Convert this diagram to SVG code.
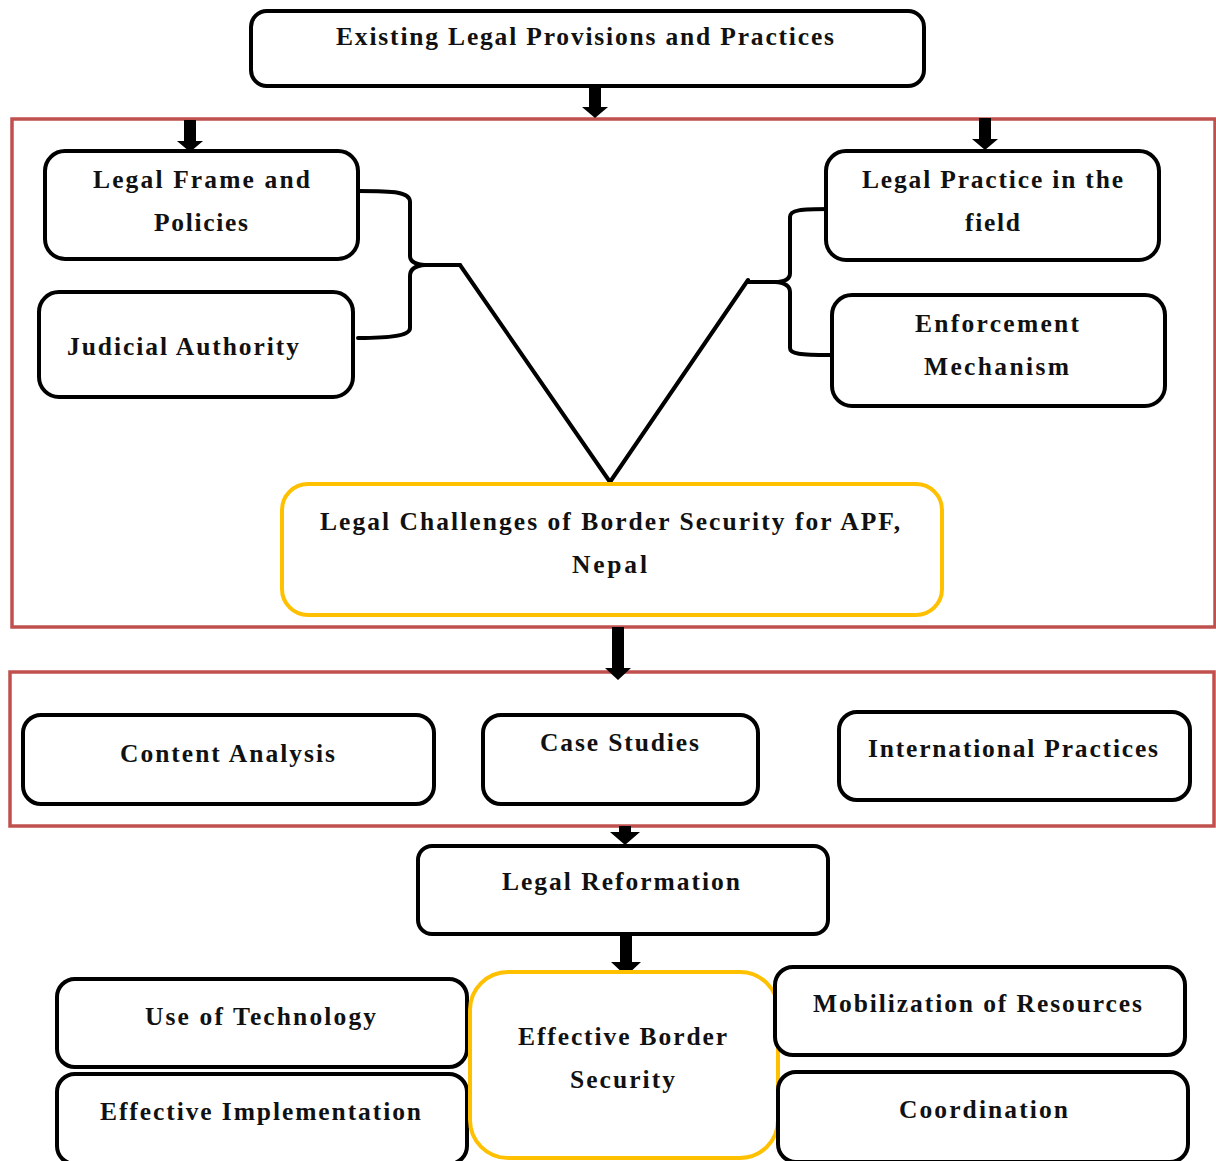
<svg xmlns="http://www.w3.org/2000/svg" width="1216" height="1161" viewBox="0 0 1216 1161">
<style>
.box{fill:#fff;stroke:#000;stroke-width:4}
.ybox{fill:#fff;stroke:#ffc000;stroke-width:4}
.frame{fill:none;stroke:#c0504d;stroke-width:3.5}
.t{font-family:"Liberation Serif","Times New Roman",serif;font-weight:bold;font-size:25.5px;fill:#111}
.ln{fill:none;stroke:#000;stroke-width:4;stroke-linejoin:round;stroke-linecap:round}
.ar{fill:#000}
</style>
<rect width="1216" height="1161" fill="#fff"/>
<g id="frames">
<rect class="frame" x="12" y="119" width="1203" height="508"/>
<rect class="frame" x="10" y="672" width="1204" height="154"/>
</g>
<g id="connectors">
<path class="ln" d="M358,191 C395,191 410,192 410,202 L410,256 Q410,264 425,265 L460,265"/>
<path class="ln" d="M358,338 C395,338 410,335 410,328 L410,276 Q410,266 425,265"/>
<path class="ln" d="M460,265 L610,482 L748,280"/>
<path class="ln" d="M830,209 C800,209 790,210 790,217 L790,273 Q790,282 775,282 L748,282"/>
<path class="ln" d="M830,355 C800,355 790,354 790,348 L790,292 Q790,283 775,282"/>
<path class="ar" d="M589,86 L601,86 L601,107 L608,107 L595,118 L582,107 L589,107 Z"/>
<path class="ar" d="M184,120 L196,120 L196,141 L203,141 L190,152 L177,141 L184,141 Z"/>
<path class="ar" d="M979,118 L991,118 L991,139 L998,139 L985,150 L972,139 L979,139 Z"/>
<path class="ar" d="M612,627 L624,627 L624,668 L631,668 L618,680 L605,668 L612,668 Z"/>
<path class="ar" d="M619,826 L631,826 L631,832 L640,832 L625,845 L610,832 L619,832 Z"/>
<path class="ar" d="M620,934 L632,934 L632,962 L641,962 L626,976 L611,962 L620,962 Z"/>
</g>
<g id="n-existing">
<rect class="box" x="251" y="11" width="673" height="75" rx="16"/>
<text class="t" x="336" y="45" textLength="498" lengthAdjust="spacing">Existing Legal Provisions and Practices</text>
</g>
<g id="n-legalframe">
<rect class="box" x="45" y="151" width="313" height="108" rx="20"/>
<text class="t" x="93" y="188" textLength="217" lengthAdjust="spacing">Legal Frame and</text>
<text class="t" x="154" y="231" textLength="94" lengthAdjust="spacing">Policies</text>
</g>
<g id="n-judicial">
<rect class="box" x="39" y="292" width="314" height="105" rx="20"/>
<text class="t" x="67" y="355" textLength="232" lengthAdjust="spacing">Judicial Authority</text>
</g>
<g id="n-legalpractice">
<rect class="box" x="826" y="151" width="333" height="109" rx="20"/>
<text class="t" x="862" y="188" textLength="261" lengthAdjust="spacing">Legal Practice in the</text>
<text class="t" x="965" y="231" textLength="55" lengthAdjust="spacing">field</text>
</g>
<g id="n-enforcement">
<rect class="box" x="832" y="295" width="333" height="111" rx="20"/>
<text class="t" x="915" y="332" textLength="164" lengthAdjust="spacing">Enforcement</text>
<text class="t" x="924" y="375" textLength="145" lengthAdjust="spacing">Mechanism</text>
</g>
<g id="n-challenges">
<rect class="ybox" x="282" y="484" width="660" height="131" rx="26"/>
<text class="t" x="320" y="530" textLength="580" lengthAdjust="spacing">Legal Challenges of Border Security for APF,</text>
<text class="t" x="572" y="573" textLength="75" lengthAdjust="spacing">Nepal</text>
</g>
<g id="n-content">
<rect class="box" x="23" y="715" width="411" height="89" rx="18"/>
<text class="t" x="120" y="762" textLength="215" lengthAdjust="spacing">Content Analysis</text>
</g>
<g id="n-case">
<rect class="box" x="483" y="715" width="275" height="89" rx="18"/>
<text class="t" x="540" y="751" textLength="159" lengthAdjust="spacing">Case Studies</text>
</g>
<g id="n-international">
<rect class="box" x="839" y="712" width="351" height="88" rx="18"/>
<text class="t" x="868" y="757" textLength="290" lengthAdjust="spacing">International Practices</text>
</g>
<g id="n-reformation">
<rect class="box" x="418" y="846" width="410" height="88" rx="14"/>
<text class="t" x="502" y="890" textLength="238" lengthAdjust="spacing">Legal Reformation</text>
</g>
<g id="n-technology">
<rect class="box" x="57" y="979" width="410" height="88" rx="18"/>
<text class="t" x="145" y="1025" textLength="231" lengthAdjust="spacing">Use of Technology</text>
</g>
<g id="n-implementation">
<rect class="box" x="57" y="1074" width="410" height="90" rx="18"/>
<text class="t" x="100" y="1120" textLength="321" lengthAdjust="spacing">Effective Implementation</text>
</g>
<g id="n-border">
<rect class="ybox" x="470" y="972" width="308" height="186" rx="38"/>
<text class="t" x="518" y="1045" textLength="209" lengthAdjust="spacing">Effective Border</text>
<text class="t" x="570" y="1088" textLength="105" lengthAdjust="spacing">Security</text>
</g>
<g id="n-mobilization">
<rect class="box" x="775" y="967" width="410" height="88" rx="18"/>
<text class="t" x="813" y="1012" textLength="329" lengthAdjust="spacing">Mobilization of Resources</text>
</g>
<g id="n-coordination">
<rect class="box" x="778" y="1072" width="410" height="90" rx="18"/>
<text class="t" x="899" y="1118" textLength="169" lengthAdjust="spacing">Coordination</text>
</g>
</svg>
